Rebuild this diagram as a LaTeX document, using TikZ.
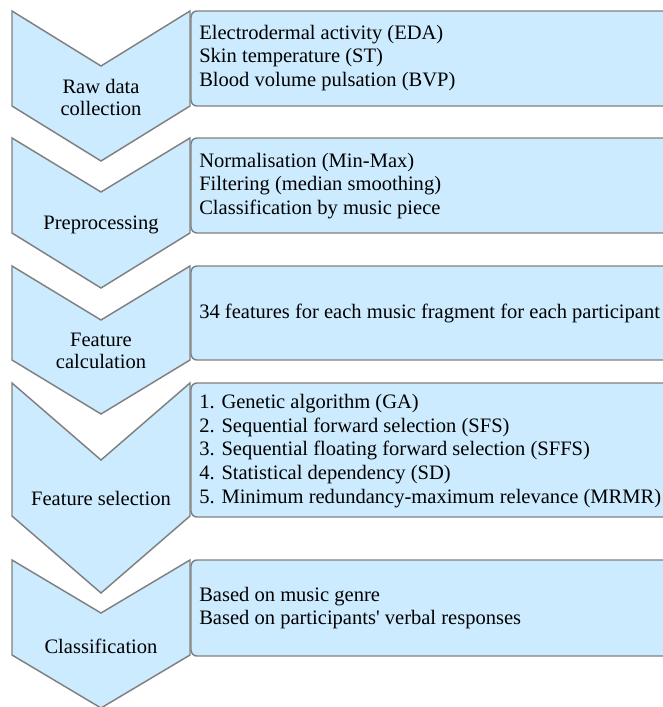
\documentclass[tikz,border=0pt]{standalone}
\usepackage{fontspec}
\setmainfont{Liberation Serif}
\definecolor{paleblue}{RGB}{204,235,255}
\definecolor{edgegray}{RGB}{128,128,128}

\begin{document}
\begin{tikzpicture}[x=0.75pt,y=-0.75pt,
  chev/.style={fill=paleblue,draw=edgegray,line width=1.1pt,line join=miter},
  box/.style={fill=paleblue,draw=edgegray,line width=1.1pt,rounded corners=4.5pt},
  txt/.style={font=\fontsize{15.4}{17.8}\selectfont,align=left,inner sep=0pt,anchor=west},
  lbl/.style={font=\fontsize{15.4}{16.5}\selectfont,align=center,inner sep=0pt}]
\useasboundingbox (0,0) rectangle (663,707);
% chevrons
\draw[chev] (12,11) -- (101,66) -- (190,11) -- (190,106) -- (101,161) -- (12,106) -- cycle;
\draw[chev] (12,138) -- (101,192) -- (190,138) -- (190,233) -- (101,288) -- (12,233) -- cycle;
\draw[chev] (12,266) -- (101,320) -- (190,266) -- (190,360) -- (101,414) -- (12,360) -- cycle;
\draw[chev] (12,383) -- (101,460) -- (190,383) -- (190,516) -- (101,593) -- (12,516) -- cycle;
\draw[chev] (12,560) -- (101,613) -- (190,560) -- (190,655) -- (101,708) -- (12,655) -- cycle;
\node[lbl] at (101,97) (raw) {Raw data\\collection};
\node[lbl] at (101,225) (pre) {Preprocessing};
\node[lbl] at (101,351) (calc) {Feature\\calculation};
\node[lbl] at (101,498) (sel) {Feature selection};
\node[lbl] at (101,646) (cls) {Classification};
% boxes
\draw[box] (191,11) rectangle (672,106);
\draw[box] (191,138) rectangle (672,233);
\draw[box] (191,266) rectangle (672,360);
\draw[box] (191,383) rectangle (672,517);
\draw[box] (191,560) rectangle (672,656);
\node[txt] at (199,58) (rawtxt) {Electrodermal activity (EDA)\\Skin temperature (ST)\\Blood volume pulsation (BVP)};
\node[txt] at (199,186) (pretxt) {Normalisation (Min-Max)\\Filtering (median smoothing)\\Classification by music piece};
\node[txt] at (199,313) (calctxt) {34 features for each music fragment for each participant};
\node[txt] at (199,451) (seltxt) {1. Genetic algorithm (GA)\\2. Sequential forward selection (SFS)\\3. Sequential floating forward selection (SFFS)\\4. Statistical dependency (SD)\\5. Minimum redundancy-maximum relevance (MRMR)};
\node[txt] at (199,608) (clstxt) {Based on music genre\\Based on participants\textquotesingle{} verbal responses};
\end{tikzpicture}
\end{document}
